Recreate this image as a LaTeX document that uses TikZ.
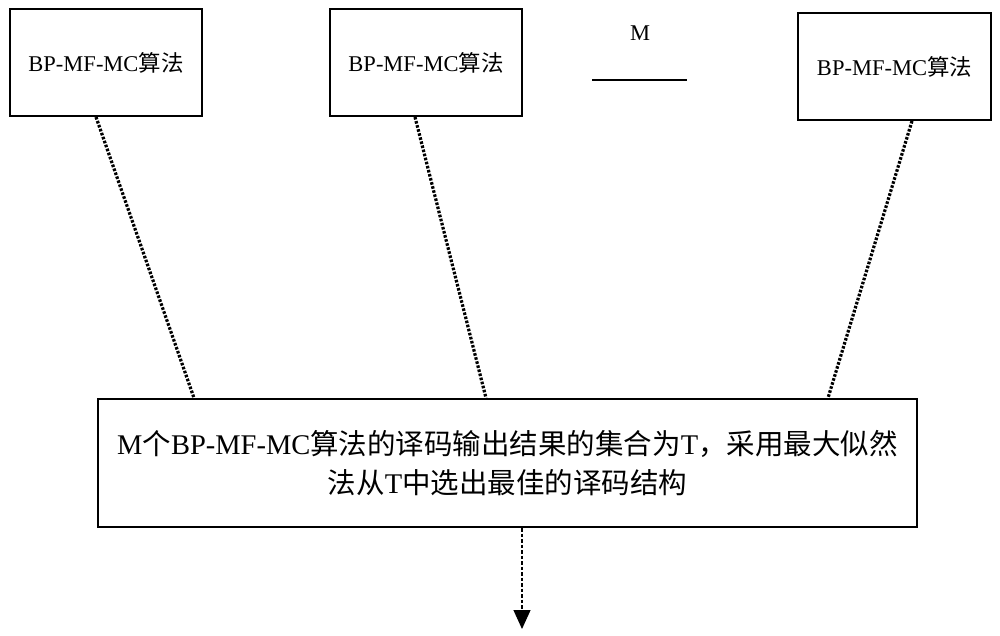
\documentclass[tikz,border=0pt]{standalone}
\usepackage{fontspec}
\setmainfont{Liberation Serif}
\newfontfamily\cjk{Noto Sans CJK SC}
\usetikzlibrary{calc,arrows.meta}
\newcommand{\zh}[1]{{\cjk #1}}
\begin{document}
\begin{tikzpicture}[x=1pt,y=-1pt,
  algbox/.style={draw,line width=2pt,minimum width=192pt,minimum height=107pt,inner sep=0pt,font=\fontsize{22.5}{26}\selectfont},
  bigbox/.style={draw,line width=2pt,minimum width=819pt,minimum height=128pt,inner sep=0pt,align=center,font=\fontsize{28.5}{39}\selectfont},
  dotline/.style={line width=3.2pt,dash pattern=on 2.6pt off 1.6pt},
  outarrow/.style={line width=1.2pt,dash pattern=on 3.5pt off 2pt,-{Triangle[width=17pt,length=19pt]}}]
\useasboundingbox (0,0) rectangle (1000,636);
\node[algbox] (b1) at (106,62.5) {BP-MF-MC\zh{算法}};
\node[algbox] (b2) at (426,62.5) {BP-MF-MC\zh{算法}};
\node[algbox,minimum width=193pt] (b3) at (894.5,66.5) {BP-MF-MC\zh{算法}};
\node[font=\fontsize{22.5}{26}\selectfont,inner sep=0pt] (m) at (640,33) {M};
\coordinate (l1) at (592,80);
\coordinate (l2) at (687,80);
\draw[line width=1.3pt] (l1) -- (l2);
\node[bigbox] (t) at (507.5,463) {M\zh{个}BP-MF-MC\zh{算法的译码输出结果的集合为}T\zh{，采用最大似然}\\\zh{法从}T\zh{中选出最佳的译码结构}};
\draw[dotline] ($(b1.south)+(-10,0)$) -- ($(t.north)+(-313.5,0)$);
\draw[dotline] ($(b2.south)+(-11,0)$) -- ($(t.north)+(-21.5,0)$);
\draw[dotline] ($(b3.south)+(17.5,0)$) -- ($(t.north)+(320.5,0)$);
\coordinate (end) at (522,629);
\draw[outarrow] ($(t.south)+(14.5,0)$) -- (end);
\end{tikzpicture}
\end{document}
